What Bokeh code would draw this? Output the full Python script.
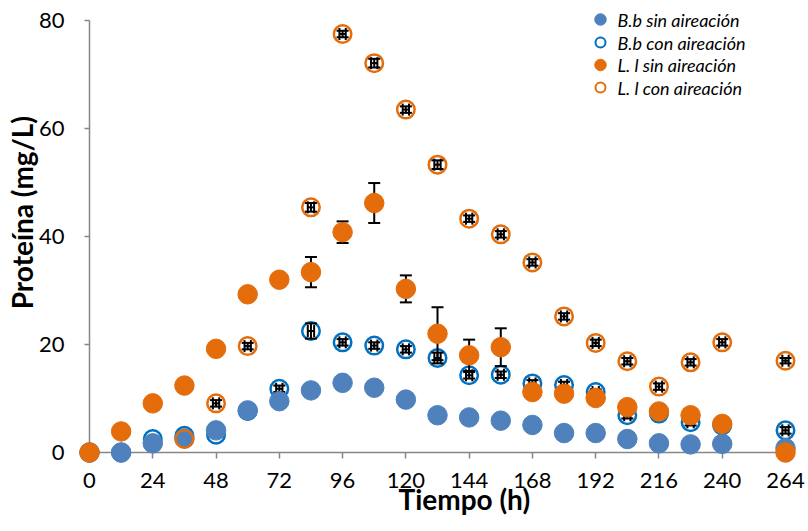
import math
from bokeh.plotting import figure
from bokeh.models import Range1d, FixedTicker
from bokeh.core.properties import value
from bokeh.embed import file_html
from bokeh.resources import INLINE

# ---------------- data ----------------
hours = [0, 12, 24, 36, 48, 60, 72, 84, 96, 108, 120, 132, 144, 156, 168, 180, 192, 204, 216, 228, 240, 264]

bb_sin = [0, 0, 1.7, 2.6, 4.1, 7.8, 9.5, 11.5, 12.9, 12.0, 9.8, 6.9, 6.5, 5.9, 5.1, 3.6, 3.6, 2.5, 1.7, 1.5, 1.6, 0.8]

bb_con = [0, 0, 2.5, 3.1, 3.3, 7.7, 11.8, 22.5, 20.4, 19.8, 19.1, 17.5, 14.3, 14.4, 12.8, 12.5, 11.2, 6.9, 7.2, 5.6, 5.0, 4.1]
bb_con_err = [0, 0, 0, 0, 0, 0, 0.6, 1.4, 0.6, 0.6, 0.6, 1.0, 0.6, 0.6, 0.6, 0.6, 0.5, 0.6, 0.6, 0.6, 0.6, 0.6]

ll_sin = [0, 3.9, 9.1, 12.4, 19.2, 29.3, 32.0, 33.4, 40.8, 46.2, 30.3, 22.0, 18.0, 19.5, 11.2, 10.9, 10.1, 8.4, 7.6, 6.9, 5.3, 0.0]
ll_sin_err = [0, 0, 0, 0, 0, 0, 0.5, 2.8, 2.0, 3.7, 2.5, 4.9, 2.9, 3.5, 0.5, 0.4, 0.4, 0.4, 0.4, 0.4, 0.4, 0]

ll_con_hours = [36, 48, 60, 84, 96, 108, 120, 132, 144, 156, 168, 180, 192, 204, 216, 228, 240, 264]
ll_con = [2.5, 9.1, 19.7, 45.4, 77.5, 72.1, 63.5, 53.3, 43.3, 40.4, 35.2, 25.2, 20.3, 16.9, 12.2, 16.7, 20.4, 17.0]
ll_con_err = [0, 0.6, 0.6, 0.8, 0.6, 0.8, 0.6, 0.8, 0.6, 0.6, 0.6, 0.6, 0.6, 0.6, 0.6, 0.6, 0.6, 0.5]

x_ticks = [0, 24, 48, 72, 96, 120, 144, 168, 192, 216, 240, 264]
y_ticks = [0, 20, 40, 60, 80]

series_names = ["B.b sin aireación", "B.b con aireación", "L. l sin aireación", "L. l con aireación"]
x_title = "Tiempo (h)"
y_title = "Proteína (mg/L)"

BLUE_FILL = "#4F81BD"
BLUE_LINE = "#0070C0"
ORANGE = "#E46C0A"
AXIS_GRAY = "#868686"
FONT = "Lato"

# ---------------- layout (pixels) ----------------
W, H = 808, 531
FL, FR, FT, FB = 89, 785, 20, 452          # plot frame edges in page pixels
X0, X1, Y0, Y1 = 0, 264, 0, 80


def px_to_x(px):
    return X0 + (px - FL) * (X1 - X0) / (FR - FL)


def px_to_y(py):
    return Y0 + (FB - py) * (Y1 - Y0) / (FB - FT)


# ---------------- figure ----------------
p = figure(width=W, height=H, output_backend="svg", toolbar_location=None,
           x_range=Range1d(X0, X1), y_range=Range1d(Y0, Y1),
           min_border_left=FL, min_border_right=W - FR, min_border_top=FT, min_border_bottom=H - FB)
p.outline_line_color = None
p.grid.visible = False
p.background_fill_color = "white"
p.border_fill_color = "white"

for ax in (p.xaxis[0], p.yaxis[0]):
    ax.axis_line_color = AXIS_GRAY
    ax.axis_line_width = 1.5
    ax.major_tick_line_color = AXIS_GRAY
    ax.major_tick_line_width = 1.5
    ax.major_tick_in = 0
    ax.minor_tick_line_color = None
    ax.major_label_text_font = FONT
    ax.major_label_text_font_size = "22px"
    ax.major_label_text_color = "black"
    ax.axis_label_text_font = FONT
    ax.axis_label_text_font_style = "bold"
    ax.axis_label_text_font_size = "28px"
    ax.axis_label_text_color = "black"

p.xaxis.ticker = FixedTicker(ticks=x_ticks)
p.yaxis.ticker = FixedTicker(ticks=y_ticks)
p.xaxis.major_tick_out = 6
p.yaxis.major_tick_out = 5
p.xaxis.major_label_standoff = 14
p.yaxis.major_label_standoff = 20

NB = "\u00a0"
p.xaxis.axis_label = NB * 8 + x_title
p.yaxis.axis_label = NB * 7 + y_title
p.xaxis.axis_label_standoff = -9
p.yaxis.axis_label_standoff = -3


def errbars(xs, ys, es, xe=0.0, cap=12, lw=2):
    sel = [i for i, e in enumerate(es) if e > 0]
    x = [xs[i] for i in sel]
    y = [ys[i] for i in sel]
    e = [es[i] for i in sel]
    lo = [a - b for a, b in zip(y, e)]
    hi = [a + b for a, b in zip(y, e)]
    p.segment(x0=x, y0=lo, x1=x, y1=hi, line_color="black", line_width=lw, level="overlay")
    p.scatter(x + x, lo + hi, marker="dash", size=cap, line_color="black", line_width=lw, level="overlay")
    if xe > 0:
        left = [a - xe for a in x]
        right = [a + xe for a in x]
        p.segment(x0=left, y0=y, x1=right, y1=y, line_color="black", line_width=lw, level="overlay")
        p.scatter(left + right, y + y, marker="dash", angle=math.pi / 2, size=cap,
                  line_color="black", line_width=lw, level="overlay")


styles = [
    dict(fill_color=BLUE_FILL, line_color=BLUE_FILL, line_width=1),
    dict(fill_color="white", line_color=BLUE_LINE, line_width=2.5),
    dict(fill_color=ORANGE, line_color=ORANGE, line_width=1),
    dict(fill_color=None, line_color=ORANGE, line_width=2.5),
]
sizes = [19.5, 17.5, 19.5, 17.5]

p.scatter(hours, bb_con, size=sizes[1], level="overlay", **styles[1])
errbars(hours, bb_con, bb_con_err, xe=1.2)
p.scatter(hours, bb_sin, size=sizes[0], level="overlay", **styles[0])
errbars(hours, ll_sin, ll_sin_err)
p.scatter(hours, ll_sin, size=sizes[2], level="overlay", **styles[2])
p.scatter(ll_con_hours, ll_con, size=sizes[3], level="overlay", **styles[3])
errbars(ll_con_hours, ll_con, ll_con_err, xe=1.2)

# ---------------- legend (drawn in page pixels) ----------------
LEG_MARK_X = 600
LEG_TEXT_X = 617
LEG_ROW_Y = [19, 42, 64.5, 87]
leg_sizes = [11.5, 10, 11.5, 10]
for i, name in enumerate(series_names):
    st = dict(styles[i])
    if st["line_width"] > 2:
        st["line_width"] = 2
    p.scatter([px_to_x(LEG_MARK_X)], [px_to_y(LEG_ROW_Y[i])], size=leg_sizes[i], level="overlay", **st)
    p.text([px_to_x(LEG_TEXT_X)], [px_to_y(LEG_ROW_Y[i])], text=[name],
           text_font=value(FONT), text_font_style="italic", text_font_size="18px",
           text_color="black", text_align="left", text_baseline="middle", level="overlay")

open("out.html", "w").write(file_html(p, INLINE))
